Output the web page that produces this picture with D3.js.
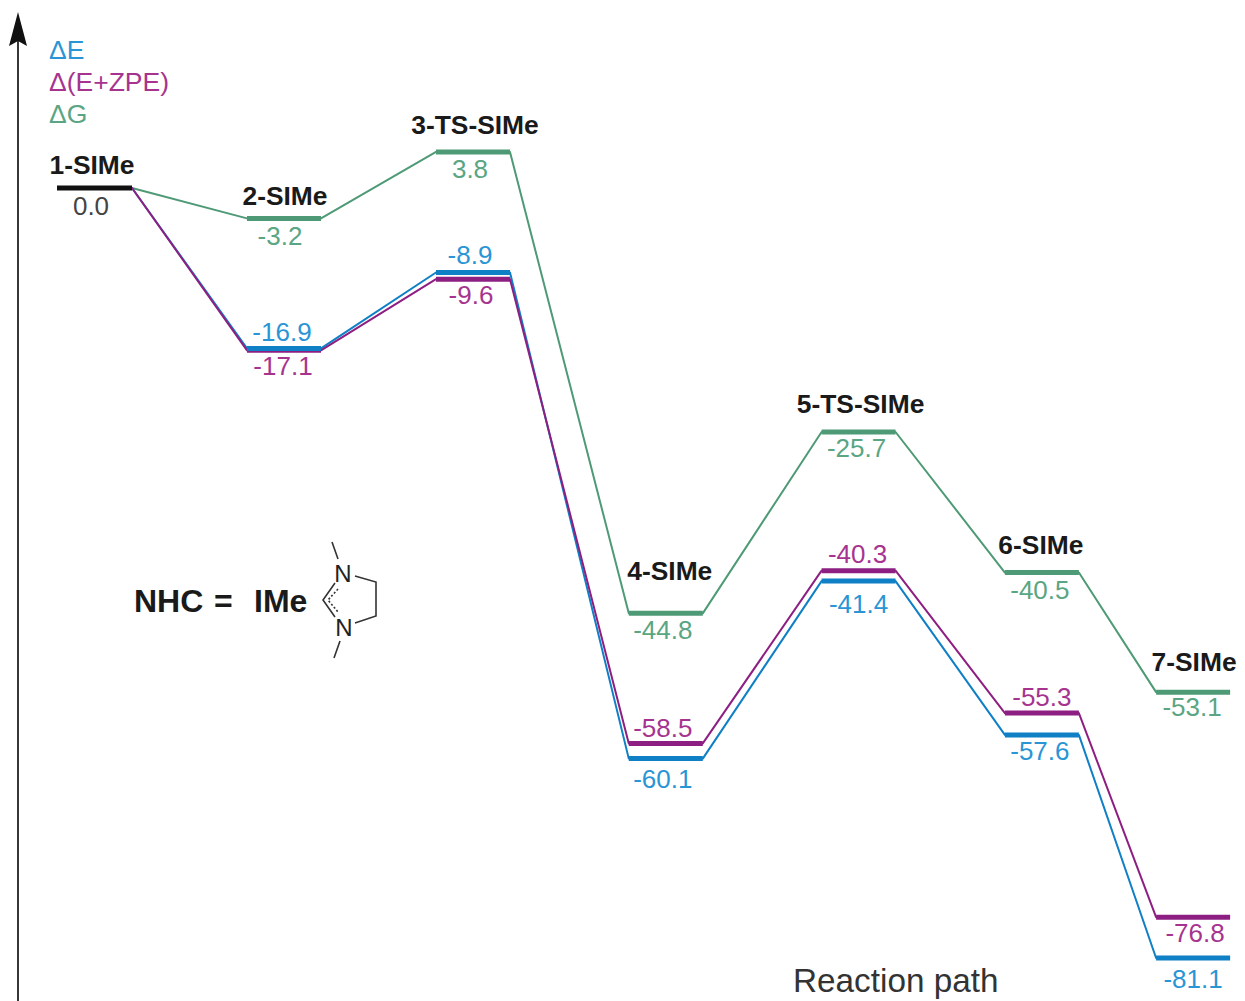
<!DOCTYPE html>
<html>
<head>
<meta charset="UTF-8">
<title>Reaction path</title>
<style>
  html, body { margin: 0; padding: 0; background: #fff; }
  svg { display: block; }
  text { font-family: "Liberation Sans", Arial, sans-serif; }
  .name { font-size: 26.4px; font-weight: bold; fill: #1a1a1a; text-anchor: middle; }
  .val { font-size: 26px; text-anchor: middle; }
  .bond { fill: none; stroke: #333; stroke-width: 1.6px; }
</style>
</head>
<body>
<script src="https://d3js.org/d3.v7.min.js"></script>
<script>
var stages = ["1-SIMe", "2-SIMe", "3-TS-SIMe", "4-SIMe", "5-TS-SIMe", "6-SIMe", "7-SIMe"];
// position of each species along the reaction path, the spacing is not even
var pathPos = [0, 1, 2, 3.02, 4.04, 5.01, 5.81];
var dE = [0, -16.9, -8.9, -60.1, -41.4, -57.6, -81.1];
var dZPE = [0, -17.1, -9.6, -58.5, -40.3, -55.3, -76.8];
var dG = [0, -3.2, 3.8, -44.8, -25.7, -40.5, -53.1];
var legendLabels = ["\u0394E", "\u0394(E+ZPE)", "\u0394G"];

var width = 1245, height = 1001, halfBar = 37;

var x = d3.scaleLinear().domain([0, 1]).range([95, 284]),
    y = d3.scaleLinear().domain([0, -81.1]).range([188, 958]);

var series = [
    {values: dG, line: "#4f9a76", text: "#5aa583", dy: [0, 27, 26, 26, 25, 26, 24], dx: [0, -4, -3, -3, -2, -2, -1]},
    {values: dE, line: "#0f7fc6", text: "#2a95d5", dy: [0, -7, -9, 29, 32, 25, 30], dx: [0, -2, -3, -3, 0, -2, 0]},
    {values: dZPE, line: "#8e1f82", text: "#a6348f", dy: [0, 25, 25, -6, -8, -7, 25], dx: [0, -1, -2, -3, -1, 0, 2]}
];

var svg = d3.select("body").append("svg")
    .attr("width", width)
    .attr("height", height);

// axis arrow
svg.append("line")
    .attr("x1", 18).attr("y1", height)
    .attr("x2", 18).attr("y2", 40)
    .attr("stroke", "#222").attr("stroke-width", 1.8);
svg.append("path")
    .attr("d", "M18,12L27,46L18,41L9,46Z")
    .attr("fill", "#111");

var line = d3.line().x(function(d) { return d[0]; }).y(function(d) { return d[1]; });

series.forEach(function(s) {
    var pts = [];
    s.values.forEach(function(v, i) {
        pts.push([x(pathPos[i]) - halfBar, y(v)]);
        pts.push([x(pathPos[i]) + halfBar, y(v)]);
    });
    svg.append("path")
        .attr("d", line(pts))
        .attr("fill", "none")
        .attr("stroke", s.line)
        .attr("stroke-width", 2)
        .attr("stroke-linejoin", "round");
});

// level bars, purple goes under blue where they touch at 2-SIMe
[series[0], series[2], series[1]].forEach(function(s) {
    svg.append("g").selectAll("line")
        .data(s.values.slice(1))
        .enter().append("line")
        .attr("x1", function(d, i) { return x(pathPos[i + 1]) - halfBar; })
        .attr("x2", function(d, i) { return x(pathPos[i + 1]) + halfBar; })
        .attr("y1", function(d) { return y(d); })
        .attr("y2", function(d) { return y(d); })
        .attr("stroke", s.line)
        .attr("stroke-width", 5);
});

svg.append("line")
    .attr("x1", x(pathPos[0]) - halfBar - 1).attr("x2", x(pathPos[0]) + halfBar)
    .attr("y1", y(0)).attr("y2", y(0))
    .attr("stroke", "#111").attr("stroke-width", 5);

// value labels
series.forEach(function(s) {
    svg.append("g").selectAll("text")
        .data(s.values.slice(1))
        .enter().append("text")
        .attr("class", "val")
        .attr("fill", s.text)
        .attr("x", function(d, i) { return x(pathPos[i + 1]) + s.dx[i + 1]; })
        .attr("y", function(d, i) { return y(d) + s.dy[i + 1]; })
        .text(function(d) { return d.toFixed(1); });
});
svg.append("text")
    .attr("class", "val").attr("fill", "#444")
    .attr("x", x(pathPos[0]) - 4).attr("y", y(0) + 27)
    .text(dE[0].toFixed(1));

// species names, offsets from the top level of each stage
var nameDx = [-3, 1, 2, 4, 2, -1, 1];
var nameDy = [-14, -13, -18, -33, -19, -19, -21];
svg.append("g").selectAll("text")
    .data(stages)
    .enter().append("text")
    .attr("class", "name")
    .attr("x", function(d, i) { return x(pathPos[i]) + nameDx[i]; })
    .attr("y", function(d, i) { return y(dG[i]) + nameDy[i]; })
    .text(function(d) { return d; });

// legend
var legendColors = ["#2a95d5", "#a6348f", "#5aa583"];
svg.append("g").selectAll("text")
    .data(legendLabels)
    .enter().append("text")
    .attr("x", 49)
    .attr("y", function(d, i) { return 59 + i * 32; })
    .attr("font-size", 26.5)
    .attr("fill", function(d, i) { return legendColors[i]; })
    .text(function(d) { return d; });

svg.append("text")
    .attr("x", 793).attr("y", 992)
    .attr("font-size", 33.3)
    .attr("fill", "#333")
    .text("Reaction path");

// NHC note and the ring sketch
[["NHC", 134], ["=", 214], ["IMe", 254]].forEach(function(t) {
    svg.append("text")
        .attr("x", t[1]).attr("y", 612)
        .attr("font-size", 32).attr("font-weight", "bold").attr("fill", "#1a1a1a")
        .text(t[0]);
});

var ring = svg.append("g");
ring.append("path").attr("class", "bond")
    .attr("d", "M332,542L338,559M355,576L376,582L376,616L355,623M340,641L334,658M335,583L323,600L335,617");
ring.append("path").attr("class", "bond")
    .attr("stroke-dasharray", "2 2")
    .attr("d", "M338,589L328,600L338,612");
ring.selectAll("text")
    .data([[343, 582], [344, 636]])
    .enter().append("text")
    .attr("x", function(d) { return d[0]; })
    .attr("y", function(d) { return d[1]; })
    .attr("text-anchor", "middle")
    .attr("font-size", 24)
    .attr("fill", "#222")
    .text("N");
</script>
</body>
</html>
